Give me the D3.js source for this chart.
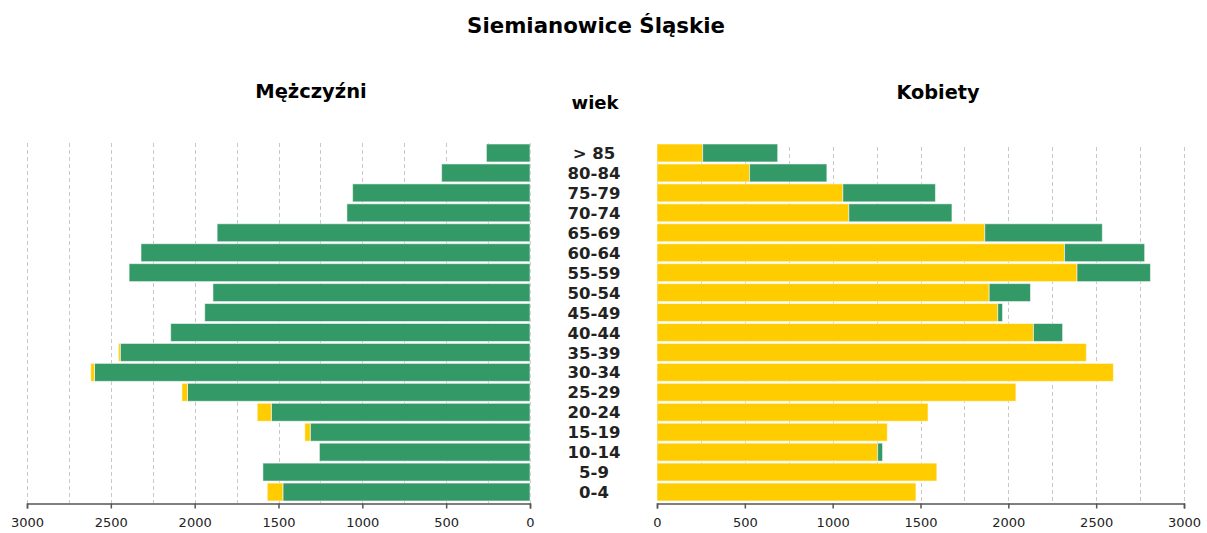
<!DOCTYPE html>
<html><head><meta charset="utf-8">
<script src="https://cdn.jsdelivr.net/npm/d3@7"></script>
<style>body{margin:0;background:#fff}svg{display:block}</style>
</head><body>
<svg id="c" width="1207" height="533"></svg>
<script>
const ages = ["> 85","80-84","75-79","70-74","65-69","60-64","55-59","50-54","45-49","40-44","35-39","30-34","25-29","20-24","15-19","10-14","5-9","0-4"];
const males   = [260, 527, 1058, 1092, 1866, 2320, 2391, 1891, 1940, 2143, 2455, 2620, 2076, 1627, 1343, 1256, 1593, 1567];
const females = [687, 967, 1585, 1679, 2535, 2776, 2809, 2126, 1967, 2309, 2444, 2598, 2043, 1543, 1311, 1284, 1593, 1474];
const tickValues = [0, 500, 1000, 1500, 2000, 2500, 3000];
const gridValues = d3.range(0, 3001, 250);

const GREEN = "#339966", YELLOW = "#FFCC00";
const FONT = "DejaVu Sans, Verdana, sans-serif";
const svg = d3.select("#c");

const xL = d3.scaleLinear().domain([0, 3000]).range([530, 27]);
const xR = d3.scaleLinear().domain([0, 3000]).range([657, 1184]);
const y = d3.scaleBand().domain(ages).range([143, 502]).paddingInner(0.1).paddingOuter(0.05);
const data = ages.map((a, i) => ({age: a, m: males[i], f: females[i], c: Math.min(males[i], females[i])}));

// gridlines
[[xL, 143], [xR, 147]].forEach(([sc, top]) => {
  svg.append("g").selectAll("line").data(gridValues).join("line")
    .attr("x1", d => Math.round(sc(d)) + 0.5).attr("x2", d => Math.round(sc(d)) + 0.5)
    .attr("y1", top).attr("y2", 503)
    .attr("stroke", "#c8c8c8").attr("stroke-width", 1).attr("stroke-dasharray", "4,3");
});

const barStroke = "rgba(255,255,255,0.55)";
// left panel (men)
const gl = svg.append("g");
gl.selectAll("rect.g").data(data).join("rect").attr("class", "g")
  .attr("x", d => xL(d.c)).attr("width", d => xL(0) - xL(d.c))
  .attr("y", d => y(d.age)).attr("height", y.bandwidth())
  .attr("fill", GREEN).attr("stroke", barStroke);
gl.selectAll("rect.y").data(data.filter(d => d.m > d.c)).join("rect").attr("class", "y")
  .attr("x", d => xL(d.m)).attr("width", d => xL(d.c) - xL(d.m))
  .attr("y", d => y(d.age)).attr("height", y.bandwidth())
  .attr("fill", YELLOW).attr("stroke", barStroke);

// right panel (women)
const gr = svg.append("g");
gr.selectAll("rect.y").data(data).join("rect").attr("class", "y")
  .attr("x", xR(0)).attr("width", d => xR(d.c) - xR(0))
  .attr("y", d => y(d.age)).attr("height", y.bandwidth())
  .attr("fill", YELLOW).attr("stroke", barStroke);
gr.selectAll("rect.g").data(data.filter(d => d.f > d.c)).join("rect").attr("class", "g")
  .attr("x", d => xR(d.c)).attr("width", d => xR(d.f) - xR(d.c))
  .attr("y", d => y(d.age)).attr("height", y.bandwidth())
  .attr("fill", GREEN).attr("stroke", barStroke);

// axes
[xL, xR].forEach(sc => {
  const ax = svg.append("g").attr("transform", "translate(0,503.5)")
    .call(d3.axisBottom(sc).tickValues(tickValues).tickSize(5).tickSizeOuter(5).tickPadding(9).tickFormat(d3.format("d")));
  ax.select(".domain").attr("stroke", "#555").attr("stroke-width", 1.5);
  ax.selectAll(".tick line").attr("stroke", "#555").attr("stroke-width", 1.5);
  ax.selectAll(".tick text").attr("font-family", FONT).attr("font-size", 13).attr("fill", "#222");
});

// age labels
svg.append("g").selectAll("text").data(ages).join("text")
  .attr("x", 594).attr("y", d => y(d) + y.bandwidth() / 2)
  .attr("dy", "0.37em").attr("text-anchor", "middle")
  .attr("font-family", FONT).attr("font-weight", "bold").attr("font-size", 16.5).attr("fill", "#222")
  .text(d => d);

// titles
const title = (t, x, yy, size) => svg.append("text").attr("x", x).attr("y", yy)
  .attr("text-anchor", "middle").attr("font-family", FONT).attr("font-weight", "bold")
  .attr("font-size", size).attr("fill", "#000").text(t);
title("Siemianowice Śląskie", 596, 33, 21.3);
title("Mężczyźni", 311, 98, 19.5);
title("wiek", 595, 109, 18);
title("Kobiety", 938, 99, 19.3);
</script>
</body></html>
